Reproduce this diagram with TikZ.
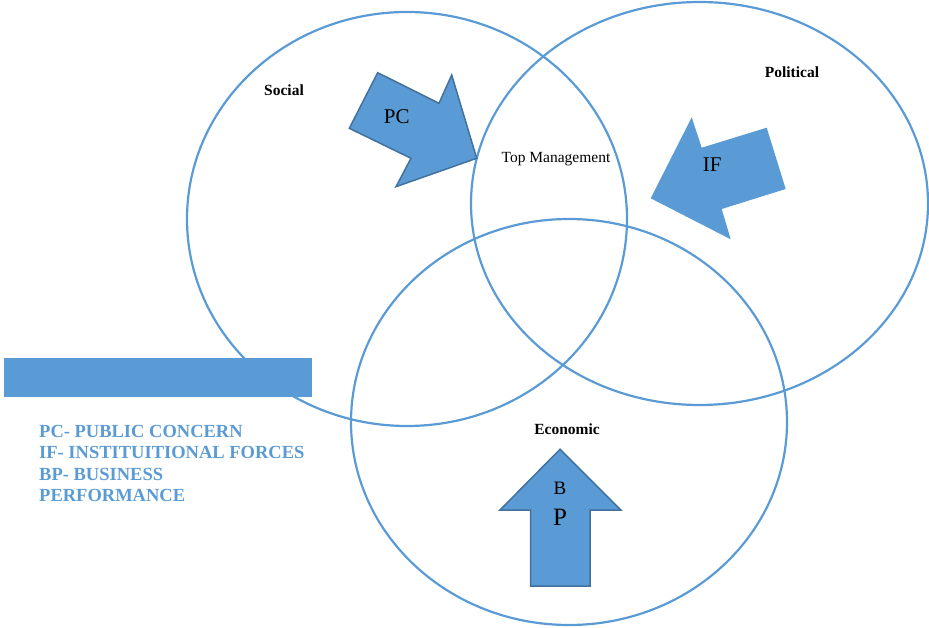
\documentclass[tikz,border=0pt]{standalone}
\usepackage{fontspec}
\setmainfont{Liberation Serif}
\definecolor{blu}{HTML}{5B9BD5}
\definecolor{dblu}{HTML}{41719C}
\tikzset{
  circ/.style={draw=blu, line width=2.2pt},
  arrowshape/.style={fill=blu, draw=dblu, line width=1.5pt, line join=miter},
  arrowflat/.style={fill=blu},
  lab/.style={font=\fontsize{15.5}{18}\selectfont\bfseries, inner sep=0pt},
  inlab/.style={inner sep=0pt},
  legend/.style={font=\fontsize{18.5}{21.5}\selectfont\bfseries, text=blu, align=left, inner sep=0pt, anchor=north west}
}
\begin{document}
\begin{tikzpicture}[x=1pt,y=-1pt]
\useasboundingbox (0,0) rectangle (929,628);
% circles
\draw[circ] (407,219) ellipse [x radius=220, y radius=207];
\draw[circ] (699.5,203.5) ellipse [x radius=228.5, y radius=201.5];
\draw[circ] (569,422) ellipse [x radius=218, y radius=203];
% legend bar
\fill[blu] (4,358) rectangle (312,397);
% PC arrow
\draw[arrowshape] (377.7,72.7) -- (439,103.3) -- (451.7,75) -- (476.7,158.3) -- (396,186.7) -- (411,158.3) -- (349.3,128.3) -- cycle;
% IF arrow
\fill[arrowflat] (650.7,198.3) -- (691.7,117.3) -- (701.7,147.7) -- (766.7,127.7) -- (785.7,189) -- (721.7,209) -- (730.7,239.3) -- cycle;
% BP arrow
\draw[arrowshape] (560,449.3) -- (620.7,510) -- (590,510) -- (590,586) -- (530.7,586) -- (530.7,510) -- (500,510) -- cycle;
% labels
\node[lab] (social) at (284,90) {Social};
\node[lab] (political) at (792,72) {Political};
\node[lab] (economic) at (567,429) {Economic};
\node[inlab, font=\fontsize{15.5}{18}\selectfont] (top) at (556,159.5) {Top Management};
\node[inlab, font=\fontsize{21}{24}\selectfont] (pc) at (396.7,117) {PC};
\node[inlab, font=\fontsize{21}{24}\selectfont] (if) at (712.3,165) {IF};
\node[inlab, font=\fontsize{19}{22}\selectfont] (b) at (560,488.3) {B};
\node[inlab, font=\fontsize{25}{28}\selectfont] (p) at (560,517.5) {P};
\node[legend] (leg) at (39,425) {PC- PUBLIC CONCERN\\IF- INSTITUITIONAL FORCES\\BP- BUSINESS\\PERFORMANCE};
\end{tikzpicture}
\end{document}
